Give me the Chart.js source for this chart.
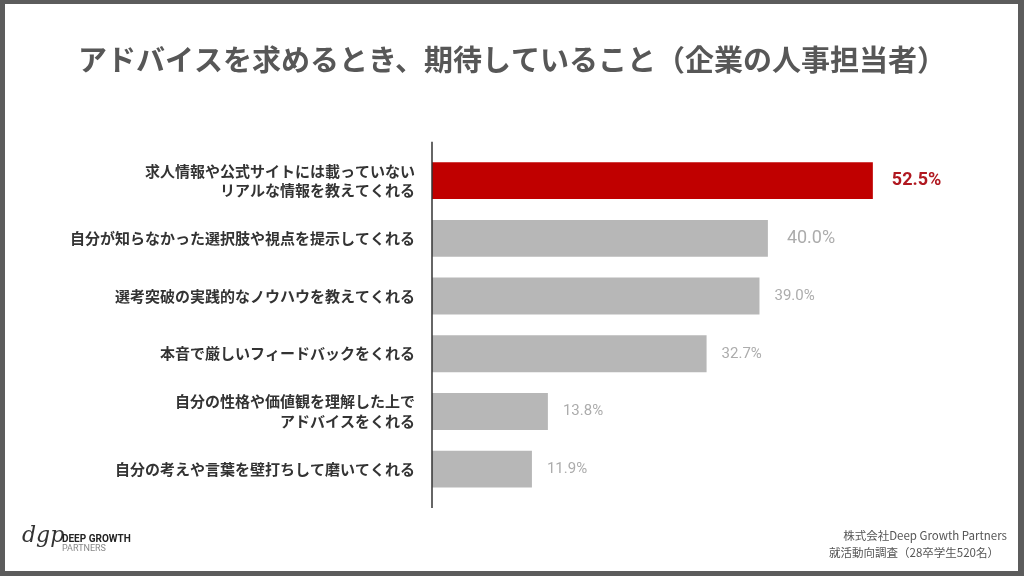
<!DOCTYPE html>
<html lang="ja">
<head>
<meta charset="utf-8">
<title>アドバイスを求めるとき、期待していること</title>
<script src="https://cdn.jsdelivr.net/npm/chart.js@4"></script>
<style>
    html, body { margin: 0; padding: 0; background: #fff; }
    #wrap { width: 1024px; height: 576px; position: relative; }
</style>
</head>
<body>
<div id="wrap"><canvas id="adviceBars" width="1024" height="576"></canvas></div>
<script>
const categories = [
    ["求人情報や公式サイトには載っていない", "リアルな情報を教えてくれる"],
    "自分が知らなかった選択肢や視点を提示してくれる",
    "選考突破の実践的なノウハウを教えてくれる",
    "本音で厳しいフィードバックをくれる",
    ["自分の性格や価値観を理解した上で", "アドバイスをくれる"],
    "自分の考えや言葉を壁打ちして磨いてくれる",
];
const values = [52.5, 40.0, 39.0, 32.7, 13.8, 11.9];

const TITLE = "アドバイスを求めるとき、期待していること（企業の人事担当者）";
const SOURCE_LINES = ["株式会社Deep Growth Partners", "就活動向調査（28卒学生520名）"];

const JP_FONT = "'Noto Sans CJK JP', 'Noto Sans', sans-serif";
const NUM_FONT = "Roboto, 'Noto Sans', sans-serif";
const RED = "#c00000";
const GREY = "#b7b7b7";

// frame, axis line, value labels, footer
const decorations = {
    id: "decorations",
    beforeDraw(chart) {
        const ctx = chart.ctx;
        ctx.save();
        ctx.fillStyle = "#5c5c5c";
        ctx.fillRect(0, 0, chart.width, chart.height);
        ctx.fillStyle = "#ffffff";
        ctx.fillRect(5, 4, chart.width - 11, chart.height - 9);
        ctx.restore();
    },
    afterDatasetsDraw(chart) {
        const ctx = chart.ctx;
        const area = chart.chartArea;
        ctx.save();
        // vertical axis line
        ctx.strokeStyle = "#333";
        ctx.lineWidth = 1.5;
        ctx.beginPath();
        ctx.moveTo(area.left, area.top - 10);
        ctx.lineTo(area.left, area.bottom + 10);
        ctx.stroke();

        // values next to bars
        const meta = chart.getDatasetMeta(0);
        ctx.textBaseline = "middle";
        ctx.textAlign = "left";
        meta.data.forEach((bar, i) => {
            const txt = values[i].toFixed(1) + "%";
            if (i === 0) {
                ctx.font = "bold 18px " + NUM_FONT;
                ctx.fillStyle = "#b01820";
                ctx.fillText(txt, bar.x + 19, bar.y);
            } else if (i === 1) {
                ctx.font = "18px " + NUM_FONT;
                ctx.fillStyle = "#acacac";
                ctx.fillText(txt, bar.x + 19, bar.y);
            } else {
                ctx.font = "15px " + NUM_FONT;
                ctx.fillStyle = "#acacac";
                ctx.fillText(txt, bar.x + 15, bar.y);
            }
        });

        // source note
        ctx.font = "11.5px " + JP_FONT;
        ctx.fillStyle = "#555";
        ctx.textAlign = "right";
        ctx.fillText(SOURCE_LINES[0], 1007, 536);
        ctx.fillText(SOURCE_LINES[1], 999, 553);

        // logo
        ctx.textAlign = "left";
        ctx.font = "italic 22px 'DejaVu Serif', serif";
        ctx.fillStyle = "#333";
        ctx.fillText("dgp", 22, 536);
        ctx.font = "bold 10px " + NUM_FONT;
        ctx.fillStyle = "#222";
        ctx.fillText("DEEP GROWTH", 62, 539);
        ctx.font = "9px " + NUM_FONT;
        ctx.fillStyle = "#888";
        ctx.fillText("PARTNERS", 62, 549);
        ctx.restore();
    }
};

const adviceBars = new Chart(document.getElementById("adviceBars"), {
    type: "bar",
    data: {
        labels: categories,
        datasets: [{
            label: "期待していること",
            data: values,
            backgroundColor: values.map((v, i) => i === 0 ? RED : GREY),
            borderWidth: 0,
            categoryPercentage: 1,
            barPercentage: 0.64,
        }],
    },
    options: {
        indexAxis: "y",
        responsive: false,
        animation: false,
        layout: {
            padding: { top: 0, left: 0, right: 0, bottom: 78 }
        },
        scales: {
            x: {
                display: false,
                min: 0,
                max: 70.5,
            },
            y: {
                grid: { display: false },
                border: { display: false },
                ticks: {
                    color: "#333",
                    padding: 9,
                    font: { family: JP_FONT, size: 15, weight: "bold", lineHeight: 1.3 },
                },
                afterFit(scale) {
                    scale.width = 432;
                },
            },
        },
        plugins: {
            legend: { display: false },
            tooltip: { enabled: false },
            title: {
                display: true,
                text: TITLE,
                color: "#575757",
                font: { family: JP_FONT, size: 29, weight: "bold", lineHeight: 1.2 },
                padding: { top: 43, bottom: 74 },
            },
        },
    },
    plugins: [decorations],
});
</script>
</body>
</html>
